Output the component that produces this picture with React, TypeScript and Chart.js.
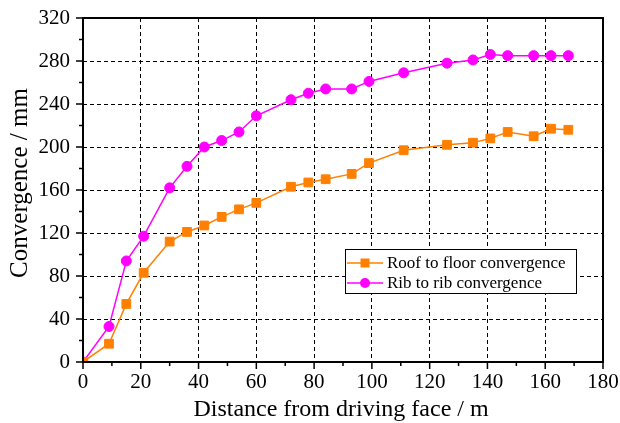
import React, { useEffect, useRef } from "react";
import { Chart, registerables } from "chart.js";

Chart.register(...registerables);

const distance = [0, 9, 15, 21, 30, 36, 42, 48, 54, 60, 72, 78, 84, 93, 99, 111, 126, 135, 141, 147, 156, 162, 168];
const roofToFloor = [0, 17, 54, 83, 112, 121, 127, 135, 142, 148, 163, 167, 170, 175, 185, 197, 202, 204, 208, 214, 210, 217, 216];
const ribToRib = [0, 33, 94, 117, 162, 182, 200, 206, 214, 229, 244, 250, 254, 254, 261, 269, 278, 281, 286, 285, 285, 285, 285];
const seriesLabels = ["Roof to floor convergence", "Rib to rib convergence"];
const seriesColors = ["#FF8000", "#FF00FF"];
const seriesMarkers = ["rect", "circle"];
const xTitle = "Distance from driving face / m";
const yTitle = "Convergence / mm";
const xRange = [0, 180, 20];
const yRange = [0, 320, 40];

const FONT = "'Liberation Serif', 'Times New Roman', serif";

const framePlugin = {
  id: "frame",
  afterDatasetsDraw(chart: any) {
    const { ctx, chartArea: a, scales } = chart;
    const xs = scales.x;
    const ys = scales.y;
    ctx.save();
    ctx.setLineDash([]);
    ctx.strokeStyle = "#000";
    ctx.lineWidth = 2;
    ctx.strokeRect(a.left, a.top, a.right - a.left, a.bottom - a.top);

    // major and minor ticks (outward)
    ctx.lineWidth = 1.5;
    ctx.beginPath();
    const xt = xs.ticks.map((t: any) => t.value);
    xt.forEach((v: number, i: number) => {
      const p = xs.getPixelForValue(v);
      ctx.moveTo(p, a.bottom);
      ctx.lineTo(p, a.bottom + 7);
      if (i < xt.length - 1) {
        const m = xs.getPixelForValue((v + xt[i + 1]) / 2);
        ctx.moveTo(m, a.bottom);
        ctx.lineTo(m, a.bottom + 4);
      }
    });
    const yt = ys.ticks.map((t: any) => t.value);
    yt.forEach((v: number, i: number) => {
      const p = ys.getPixelForValue(v);
      ctx.moveTo(a.left, p);
      ctx.lineTo(a.left - 7, p);
      if (i < yt.length - 1) {
        const m = ys.getPixelForValue((v + yt[i + 1]) / 2);
        ctx.moveTo(a.left, m);
        ctx.lineTo(a.left - 4, m);
      }
    });
    ctx.stroke();

    // legend
    const lx = 345.5, ly = 249.5, lw = 231, lh = 44;
    ctx.fillStyle = "#fff";
    ctx.fillRect(lx, ly, lw, lh);
    ctx.lineWidth = 1;
    ctx.strokeStyle = "#000";
    ctx.strokeRect(lx, ly, lw, lh);
    chart.data.datasets.forEach((ds: any, i: number) => {
      const cy = 263 + i * 20;
      ctx.strokeStyle = ds.borderColor;
      ctx.lineWidth = 1.5;
      ctx.beginPath();
      ctx.moveTo(347, cy);
      ctx.lineTo(383, cy);
      ctx.stroke();
      ctx.fillStyle = ds.borderColor;
      ctx.beginPath();
      if (ds.pointStyle === "rect") {
        ctx.rect(365 - 4.5, cy - 4.5, 9, 9);
      } else {
        ctx.arc(365, cy, 5, 0, Math.PI * 2);
      }
      ctx.fill();
      ctx.fillStyle = "#000";
      ctx.font = `17px ${FONT}`;
      ctx.textAlign = "left";
      ctx.textBaseline = "middle";
      ctx.fillText(ds.label, 387, cy + 1);
    });

    // axis titles
    ctx.fillStyle = "#000";
    ctx.font = `24px ${FONT}`;
    ctx.textAlign = "center";
    ctx.textBaseline = "alphabetic";
    ctx.fillText(xTitle, (a.left + a.right) / 2 - 2, 416);
    ctx.save();
    ctx.translate(27, 183);
    ctx.rotate(-Math.PI / 2);
    ctx.font = `25px ${FONT}`;
    ctx.fillText(yTitle, 0, 0);
    ctx.restore();

    ctx.restore();
  },
};

export default function App() {
  const ref = useRef<HTMLCanvasElement | null>(null);
  useEffect(() => {
    document.body.style.margin = "0";
    if (!ref.current) return;
    const series = [roofToFloor, ribToRib];
    const chart = new Chart(ref.current, {
      type: "line",
      data: {
        datasets: series.map((vals, i) => ({
          label: seriesLabels[i],
          data: distance.map((d, j) => ({ x: d, y: vals[j] })),
          borderColor: seriesColors[i],
          backgroundColor: seriesColors[i],
          pointBackgroundColor: seriesColors[i],
          pointBorderColor: seriesColors[i],
          pointBorderWidth: 1,
          pointStyle: seriesMarkers[i] as any,
          pointRadius: seriesMarkers[i] === "rect" ? 6.2 : 5,
          borderWidth: 1.5,
          tension: 0,
          fill: false,
        })),
      },
      options: {
        animation: false,
        responsive: false,
        devicePixelRatio: 1,
        layout: { padding: { top: 18, right: 17, left: 0, bottom: 0 } },
        plugins: {
          legend: { display: false },
          tooltip: { enabled: false },
        },
        scales: {
          x: {
            type: "linear",
            min: xRange[0],
            max: xRange[1],
            afterFit: (s: any) => {
              s.height = 61;
            },
            ticks: {
              stepSize: xRange[2],
              autoSkip: false,
              maxRotation: 0,
              padding: 0,
              color: "#000",
              font: { family: FONT, size: 21 },
            },
            grid: {
              color: "#000",
              lineWidth: 1,
              drawTicks: true,
              tickLength: 8,
              tickColor: "rgba(0,0,0,0)",
            },
            border: { display: false, dash: [4, 3] },
          },
          y: {
            type: "linear",
            min: yRange[0],
            max: yRange[1],
            afterFit: (s: any) => {
              s.width = 83;
            },
            ticks: {
              stepSize: yRange[2],
              autoSkip: false,
              padding: 0,
              color: "#000",
              font: { family: FONT, size: 21 },
            },
            grid: {
              color: "#000",
              lineWidth: 1,
              drawTicks: true,
              tickLength: 13,
              tickColor: "rgba(0,0,0,0)",
            },
            border: { display: false, dash: [4, 3] },
          },
        },
      },
      plugins: [framePlugin],
    });
    return () => chart.destroy();
  }, []);
  return <canvas ref={ref} width={620} height={423} style={{ display: "block" }} />;
}
